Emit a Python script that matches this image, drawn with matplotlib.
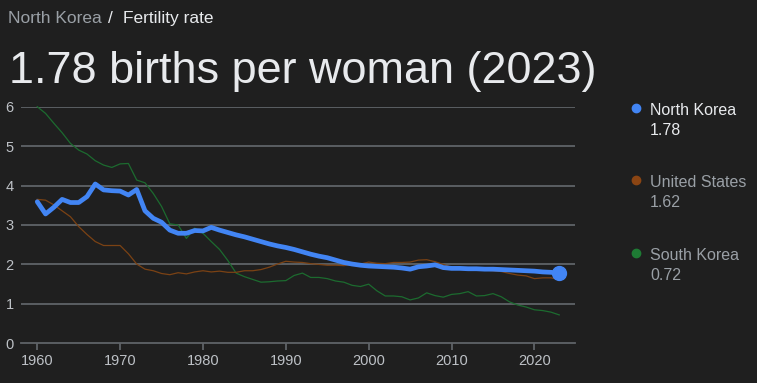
import matplotlib.pyplot as plt

plt.rcParams['font.family'] = ['Liberation Sans', 'DejaVu Sans']

years = list(range(1960, 2024))

# 북한 출산율
north_korea = [3.59, 3.28, 3.45, 3.65, 3.57, 3.57, 3.72, 4.04, 3.89, 3.87,
               3.86, 3.76, 3.90, 3.36, 3.17, 3.07, 2.87, 2.79, 2.79, 2.86,
               2.85, 2.94, 2.87, 2.81, 2.75, 2.70, 2.64, 2.58, 2.52, 2.47,
               2.43, 2.38, 2.32, 2.26, 2.21, 2.17, 2.11, 2.05, 2.01, 1.98,
               1.96, 1.95, 1.94, 1.93, 1.91, 1.88, 1.94, 1.96, 1.99, 1.92,
               1.90, 1.90, 1.89, 1.89, 1.88, 1.88, 1.87, 1.86, 1.85, 1.84,
               1.83, 1.81, 1.80, 1.78]

united_states = [3.65, 3.63, 3.51, 3.36, 3.21, 2.96, 2.76, 2.58, 2.48, 2.48,
                 2.48, 2.27, 2.01, 1.88, 1.84, 1.77, 1.74, 1.79, 1.76, 1.81,
                 1.84, 1.81, 1.83, 1.80, 1.80, 1.84, 1.84, 1.87, 1.93, 2.01,
                 2.08, 2.06, 2.05, 2.02, 2.00, 1.98, 1.98, 1.97, 2.00, 2.01,
                 2.06, 2.03, 2.02, 2.05, 2.05, 2.06, 2.11, 2.12, 2.07, 2.00,
                 1.93, 1.89, 1.88, 1.86, 1.86, 1.84, 1.82, 1.77, 1.73, 1.71,
                 1.64, 1.66, 1.66, 1.62]

south_korea = [6.00, 5.83, 5.58, 5.34, 5.07, 4.90, 4.80, 4.63, 4.52, 4.46,
               4.55, 4.56, 4.14, 4.07, 3.80, 3.47, 3.03, 3.00, 2.66, 2.92,
               2.79, 2.58, 2.38, 2.10, 1.78, 1.69, 1.62, 1.55, 1.56, 1.58,
               1.59, 1.72, 1.78, 1.67, 1.67, 1.64, 1.58, 1.55, 1.47, 1.44,
               1.50, 1.33, 1.20, 1.20, 1.18, 1.10, 1.15, 1.28, 1.21, 1.17,
               1.24, 1.26, 1.31, 1.20, 1.21, 1.26, 1.18, 1.05, 0.97, 0.92,
               0.85, 0.83, 0.79, 0.72]

x_ticks = [1960, 1970, 1980, 1990, 2000, 2010, 2020]
y_ticks = [0, 1, 2, 3, 4, 5, 6]

bg = '#1f1f1f'
grid_c = '#5f6368'
tick_c = '#bdc1c6'
blue = '#4285f4'
brown = '#7b4214'
green = '#1c6b2f'

W, H = 757, 383
fig = plt.figure(figsize=(W / 100, H / 100), dpi=100, facecolor=bg)

def px(x, y):
    # 픽셀 좌표 -> figure 좌표
    return x / W, 1 - y / H

ax_l, ax_r, ax_b, ax_t = 20.7, 575, 343.3, 106.7
ax = fig.add_axes([ax_l / W, 1 - ax_b / H, (ax_r - ax_l) / W, (ax_b - ax_t) / H])
ax.set_facecolor(bg)

ax.plot(years, south_korea, color=green, lw=0.9, clip_on=False, zorder=3)
ax.plot(years, united_states, color=brown, lw=0.9, clip_on=False, zorder=3)
ax.plot(years, north_korea, color=blue, lw=3.4, clip_on=False, zorder=4,
        solid_capstyle='round', solid_joinstyle='round')
ax.plot(years[-1], north_korea[-1], 'o', color=blue, ms=10, clip_on=False, zorder=5)

ax.set_xlim(1958, 2024.9)
ax.set_ylim(0, 6)
ax.set_xticks(x_ticks)
ax.set_yticks(y_ticks)
for v in y_ticks[1:]:
    ax.axhline(v, color=grid_c, lw=1.3, zorder=1)

for s in ['top', 'right', 'left']:
    ax.spines[s].set_visible(False)
ax.spines['bottom'].set_color(grid_c)
ax.spines['bottom'].set_linewidth(1.3)
ax.tick_params(axis='x', colors=grid_c, length=5, width=1.3, pad=3,
               labelcolor=tick_c, labelsize=10.5)
ax.tick_params(axis='y', length=0, pad=5, labelcolor=tick_c, labelsize=10.5)

# 상단 텍스트
fig.text(*px(8, 22.7), 'North Korea', color='#9aa0a6', fontsize=12.5, va='baseline')
fig.text(*px(108, 22.7), '/', color='#e8eaed', fontsize=12.5, va='baseline')
fig.text(*px(123, 22.7), 'Fertility rate', color='#e8eaed', fontsize=12.5, va='baseline')
fig.text(*px(9, 83), '1.78 births per woman (2023)', color='#e8eaed', fontsize=32.4,
         va='baseline')

# 범례
legend = [('North Korea', north_korea[-1], blue, '#e8eaed', 108),
          ('United States', united_states[-1], '#8b4513', '#9aa0a6', 180),
          ('South Korea', south_korea[-1], '#1e7b34', '#9aa0a6', 253)]
for name, val, dot_c, txt_c, yy in legend:
    fig.lines.append(plt.Line2D([636 / W], [1 - yy / H], marker='o', ms=6,
                                color=dot_c, transform=fig.transFigure))
    fig.text(*px(650, yy + 7), name, color=txt_c, fontsize=11.5, va='baseline')
    fig.text(*px(650, yy + 27), '%.2f' % val, color=txt_c, fontsize=11.5, va='baseline')

fig.savefig('out.png', dpi=100, facecolor=bg)
